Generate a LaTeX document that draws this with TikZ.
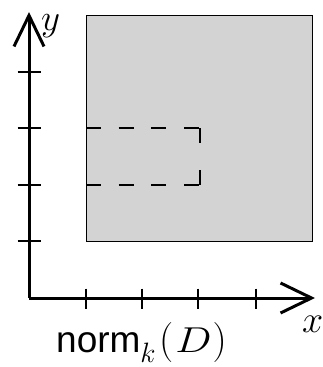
\RequirePackage{fix-cm}
\documentclass[tikz,border=0pt]{standalone}
\usepackage{fontspec}
\newfontfamily\labelsf{Liberation Sans}
\usetikzlibrary{arrows.meta}
\tikzset{
  axis/.style={line width=3pt, -{Straight Barb[length=31pt,width=30pt,line width=3pt]}},
  tick/.style={line width=1.3pt},
  region/.style={fill={rgb,255:red,211;green,211;blue,211}, draw=black, line width=1.3pt},
  dashbox/.style={line width=1.4pt, dash pattern=on 15pt off 17.7pt},
  lbl/.style={inner sep=0pt, anchor=base west}
}
\begin{document}
\begin{tikzpicture}[x=1pt,y=-1pt]
\useasboundingbox (0,0) rectangle (322,367);
% grey region
\node[region, minimum width=226pt, minimum height=226pt, inner sep=0pt, anchor=north west] (R) at (86,15) {};
% dashed sub-box
\coordinate (d1) at (86,128);
\coordinate (d2) at (200,128);
\coordinate (d3) at (200,185);
\coordinate (d4) at (86,185);
\draw[dashbox] (d1) -- (d2);
\draw[dashbox] (d4) -- (d3);
\draw[line width=1.4pt, dash pattern=on 15pt off 27pt] (d2) -- (d3);
% axes
\coordinate (O) at (29,298);
\coordinate (Y) at (29,12);
\coordinate (X) at (315,298);
\draw[axis] (O) -- (Y);
\draw[axis] (O) -- (X);
% y ticks
\foreach \t [count=\i] in {72,128,185,241}{
  \coordinate (yl\i) at (17.5,\t);
  \coordinate (yr\i) at (40.5,\t);
  \draw[tick] (yl\i) -- (yr\i);
}
% x ticks
\foreach \t [count=\i] in {86,142,198,256}{
  \coordinate (xt\i) at (\t,288.5);
  \coordinate (xb\i) at (\t,309);
  \draw[tick] (xt\i) -- (xb\i);
}
% labels
\node[lbl] (ly) at (41,30) {\fontsize{37}{41}\selectfont$y$};
\node[lbl] (lx) at (302,332) {\fontsize{38}{42}\selectfont$x$};
\node[lbl] (ln) at (56,352) {{\labelsf\fontsize{37}{40}\selectfont norm}{\fontsize{40}{44}\selectfont$_{\lower4pt\hbox{$\scriptstyle k$}}\kern3pt(\kern2pt\scalebox{1.2}[1]{\fontsize{36}{40}\selectfont$D$}\kern1pt)$}};
\end{tikzpicture}
\end{document}
